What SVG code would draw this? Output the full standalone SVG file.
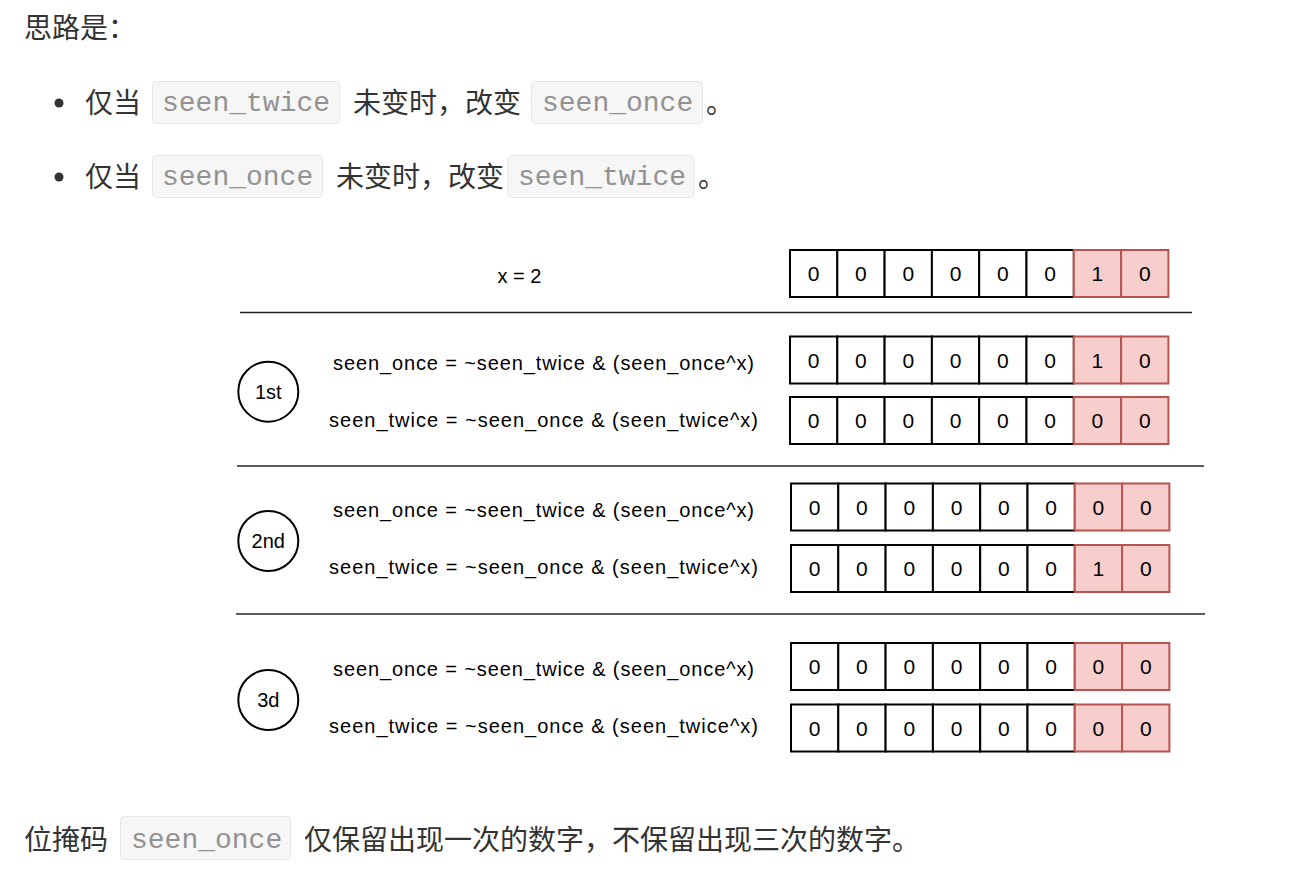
<svg xmlns="http://www.w3.org/2000/svg" xmlns:xlink="http://www.w3.org/1999/xlink" width="1314" height="882" viewBox="0 0 1314 882">
<style>
.cjk{font-family:"Noto Sans CJK SC","Noto Sans",sans-serif;font-size:28px;fill:#333;}
.mono{font-family:"Liberation Mono","DejaVu Sans Mono",monospace;font-size:28px;fill:#929292;}
.codebox{fill:#f6f6f6;stroke:#e6e6e6;stroke-width:1;}
.hand{font-family:"Liberation Sans","DejaVu Sans",sans-serif;font-size:20px;fill:#000;}
.cell{fill:#fff;stroke:#000;stroke-width:2;}
.pink{fill:#f8cecc;stroke:#b85450;stroke-width:2;}
.digit{font-family:"Liberation Sans","DejaVu Sans",sans-serif;font-size:21px;fill:#000;text-anchor:middle;}
.sep{stroke:#222;stroke-width:1.3;fill:none;}
.circ{fill:#fff;stroke:#000;stroke-width:2;}
</style>
<defs>
<g id="cells6">
<rect class="cell" x="0" y="0" width="47.3" height="47"/>
<rect class="cell" x="47.3" y="0" width="47.3" height="47"/>
<rect class="cell" x="94.6" y="0" width="47.3" height="47"/>
<rect class="cell" x="141.9" y="0" width="47.3" height="47"/>
<rect class="cell" x="189.2" y="0" width="47.3" height="47"/>
<rect class="cell" x="236.5" y="0" width="47.3" height="47"/>
<text class="digit" x="23.65" y="31">0</text>
<text class="digit" x="70.95" y="31">0</text>
<text class="digit" x="118.25" y="31">0</text>
<text class="digit" x="165.55" y="31">0</text>
<text class="digit" x="212.85" y="31">0</text>
<text class="digit" x="260.15" y="31">0</text>
<rect class="pink" x="283.8" y="0" width="47.3" height="47"/>
<rect class="pink" x="331.1" y="0" width="47.3" height="47"/>
<text class="digit" x="354.75" y="31">0</text>
</g>
</defs>
<rect width="1314" height="882" fill="#fff"/>

<g id="text-intro">
<text class="cjk" x="24" y="38">思路是：</text>
<circle cx="59" cy="103" r="4.5" fill="#333"/>
<text class="cjk" x="85" y="113">仅当</text>
<rect class="codebox" x="152.5" y="81.5" width="187" height="42" rx="4"/>
<text class="mono" x="162" y="111">seen_twice</text>
<text class="cjk" x="353" y="113">未变时，改变</text>
<rect class="codebox" x="531.5" y="81.5" width="171" height="42" rx="4"/>
<text class="mono" x="542" y="111">seen_once</text>
<text class="cjk" x="706" y="113">。</text>
<circle cx="59" cy="177" r="4.5" fill="#333"/>
<text class="cjk" x="85" y="187">仅当</text>
<rect class="codebox" x="152.5" y="155.5" width="170" height="42" rx="4"/>
<text class="mono" x="162" y="185">seen_once</text>
<text class="cjk" x="336" y="187">未变时，改变</text>
<rect class="codebox" x="508" y="155.5" width="186" height="42" rx="4"/>
<text class="mono" x="518" y="185">seen_twice</text>
<text class="cjk" x="698" y="187">。</text>
</g>

<g id="separators">
<line class="sep" x1="240" y1="312.5" x2="1192" y2="312.5"/>
<line class="sep" x1="237" y1="466" x2="1204" y2="466"/>
<line class="sep" x1="236" y1="614" x2="1205" y2="614"/>
</g>

<g id="connectors"></g>

<g id="x-label">
<text class="hand" x="519.5" y="283" text-anchor="middle">x = 2</text>
</g>
<g id="row-x">
<use xlink:href="#cells6" href="#cells6" transform="translate(790,250)"/>
<text class="digit" x="1097.45" y="281">1</text>
</g>

<g id="step1">
<circle class="circ" cx="268.3" cy="391.7" r="30"/>
<text class="hand" x="268.3" y="399" text-anchor="middle">1st</text>
<text class="hand" x="333" y="370" textLength="421" lengthAdjust="spacing">seen_once = ~seen_twice &amp; (seen_once^x)</text>
<text class="hand" x="329" y="427" textLength="429" lengthAdjust="spacing">seen_twice = ~seen_once &amp; (seen_twice^x)</text>
</g>
<g id="row1a">
<use xlink:href="#cells6" href="#cells6" transform="translate(790,336.5)"/>
<text class="digit" x="1097.45" y="367.5">1</text>
</g>
<g id="row1b">
<use xlink:href="#cells6" href="#cells6" transform="translate(790,397)"/>
<text class="digit" x="1097.45" y="428">0</text>
</g>

<g id="step2">
<circle class="circ" cx="268.3" cy="541" r="30"/>
<text class="hand" x="268.3" y="548" text-anchor="middle">2nd</text>
<text class="hand" x="333" y="517" textLength="421" lengthAdjust="spacing">seen_once = ~seen_twice &amp; (seen_once^x)</text>
<text class="hand" x="329" y="574" textLength="429" lengthAdjust="spacing">seen_twice = ~seen_once &amp; (seen_twice^x)</text>
</g>
<g id="row2a">
<use xlink:href="#cells6" href="#cells6" transform="translate(791,483.5)"/>
<text class="digit" x="1098.45" y="514.5">0</text>
</g>
<g id="row2b">
<use xlink:href="#cells6" href="#cells6" transform="translate(791,545)"/>
<text class="digit" x="1098.45" y="576">1</text>
</g>

<g id="step3">
<circle class="circ" cx="268.3" cy="700" r="30"/>
<text class="hand" x="268.3" y="707" text-anchor="middle">3d</text>
<text class="hand" x="333" y="676" textLength="421" lengthAdjust="spacing">seen_once = ~seen_twice &amp; (seen_once^x)</text>
<text class="hand" x="329" y="733" textLength="429" lengthAdjust="spacing">seen_twice = ~seen_once &amp; (seen_twice^x)</text>
</g>
<g id="row3a">
<use xlink:href="#cells6" href="#cells6" transform="translate(791,643)"/>
<text class="digit" x="1098.45" y="674">0</text>
</g>
<g id="row3b">
<use xlink:href="#cells6" href="#cells6" transform="translate(791,704.5)"/>
<text class="digit" x="1098.45" y="735.5">0</text>
</g>

<g id="text-outro">
<text class="cjk" x="24" y="849.5">位掩码</text>
<rect class="codebox" x="120.5" y="816.5" width="170" height="43" rx="4"/>
<text class="mono" x="131" y="848">seen_once</text>
<text class="cjk" x="304" y="849.5">仅保留出现一次的数字，不保留出现三次的数字。</text>
</g>
</svg>
